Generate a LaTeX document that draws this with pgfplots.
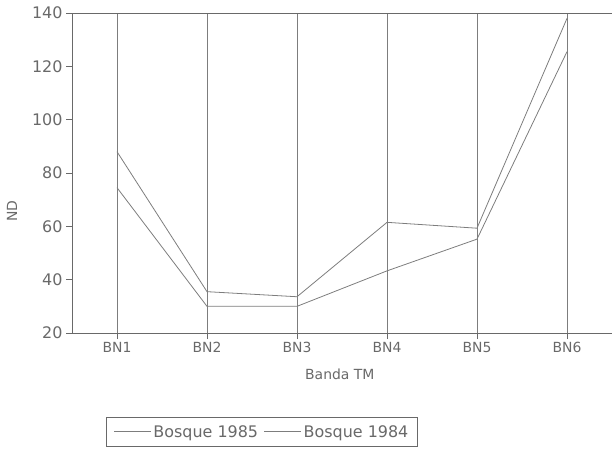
\documentclass[border=0pt]{standalone}
\usepackage{pgfplots}
\pgfplotsset{compat=1.18}
\usepackage{fontspec}
\setmainfont{DejaVu Sans}
\definecolor{ink}{RGB}{105,105,105}
\definecolor{ln}{RGB}{125,125,125}
\begin{document}
\begin{tikzpicture}
\begin{axis}[
  name=ax,
  scale only axis,
  width=540bp, height=320bp,
  xmin=0.5, xmax=6.5, ymin=20, ymax=140,
  axis x line=box, axis y line=left,
  axis line style={ink, line width=0.8pt, -},
  xtick={1,2,3,4,5,6},
  xticklabels={BN1,BN2,BN3,BN4,BN5,BN6},
  xtick pos=bottom,
  ytick={20,40,60,80,100,120,140},
  tick align=outside,
  major tick length=6bp,
  tick style={ink, line width=0.7pt},
  xmajorgrids,
  grid style={ln, line width=0.6pt},
  yticklabel style={ink, font=\fontsize{16}{18}\selectfont},
  xticklabel style={ink, font=\fontsize{14}{16}\selectfont},
  /pgf/number format/assume math mode=true,
  xlabel={Banda TM}, ylabel={ND},
  label style={ink, font=\fontsize{14}{16}\selectfont},
  xlabel style={at={(axis description cs:0.496,-0.128)}, anchor=center},
  ylabel style={at={(axis description cs:-0.111,0.38)}, anchor=center},
  legend columns=2,
  legend style={at={(0.352,-0.309)}, anchor=center, draw=ink, line width=0.8pt,
    font=\fontsize{16}{18}\selectfont, text=ink, inner xsep=7bp, inner ysep=6bp,
    /tikz/every even column/.append style={column sep=4bp}},
  legend image code/.code={\draw[#1] (0cm,0cm) -- (1.3cm,0cm);},
]
\addplot[ln, line width=0.8pt] coordinates {(1,88) (2,35.5) (3,33.6) (4,61.5) (5,59.3) (6,138)};
\addlegendentry{Bosque 1985}
\addplot[ln, line width=0.8pt] coordinates {(1,74.5) (2,30) (3,30) (4,43.3) (5,55.2) (6,125.5)};
\addlegendentry{Bosque 1984}
\end{axis}
\pgfresetboundingbox
\path ([xshift=-72bp,yshift=13bp]ax.north west) rectangle ([yshift=-122bp]ax.south east);
\end{tikzpicture}
\end{document}
